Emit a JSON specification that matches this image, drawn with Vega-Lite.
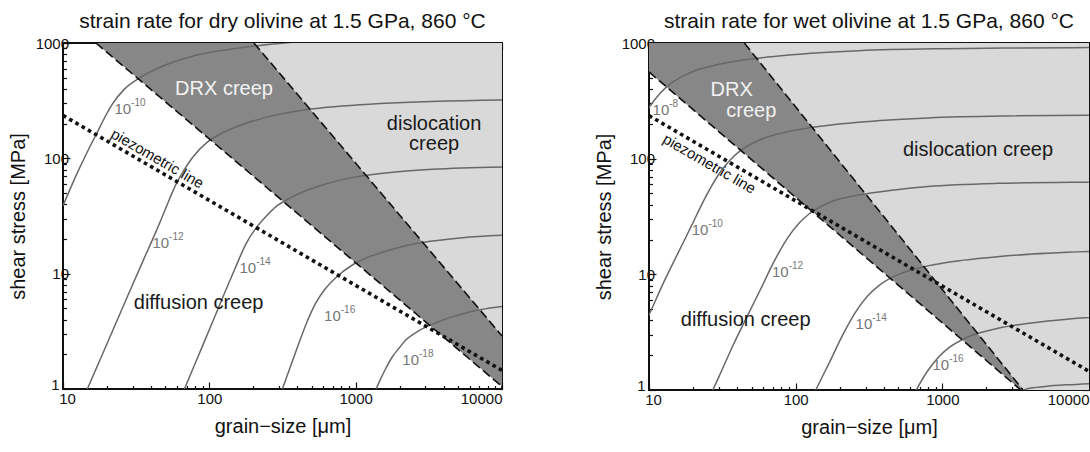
{
  "$schema": "https://vega.github.io/schema/vega-lite/v6.json",
  "background": "white",
  "padding": {"left": 7, "top": 10, "right": 2, "bottom": 5},
  "spacing": 87,
  "config": {
    "view": {"stroke": "#111111", "strokeWidth": 2},
    "axis": {"domain": false, "grid": false, "labelFont": "Liberation Sans", "labelFontSize": 15, "labelColor": "#111111", "titleFont": "Liberation Sans", "titleFontSize": 20, "titleFontWeight": "normal", "titleColor": "#111111", "tickColor": "#111111", "tickWidth": 1.2, "labelOverlap": false, "labelBound": false, "labelFlush": false},
    "text": {"font": "Liberation Sans"},
    "title": {"font": "Liberation Sans", "fontSize": 21, "fontWeight": "normal", "color": "#111111", "anchor": "middle", "frame": "group", "baseline": "alphabetic", "offset": 4}
  },
  "datasets": {
    "piezo": [{"d": 10, "tau": 235.5}, {"d": 10000, "tau": 1.45}],
    "dry_dark": [{"d": 16.79, "tau": 1000, "tau2": 1000}, {"d": 10000, "tau": 1.05, "tau2": 1000}],
    "dry_light": [{"d": 201.8, "tau": 1000, "tau2": 1000}, {"d": 10000, "tau": 2.884, "tau2": 1000}],
    "dry_bounds": [
      {"id": "lower", "d": 16.79, "tau": 1000}, {"id": "lower", "d": 10000, "tau": 1.05},
      {"id": "upper", "d": 201.8, "tau": 1000}, {"id": "upper", "d": 10000, "tau": 2.884}
    ],
    "dry_contours": [
      {"level": "-10", "d": 10, "tau": 38.9}, {"level": "-10", "d": 12.59, "tau": 75.9}, {"level": "-10", "d": 16.73, "tau": 158.5}, {"level": "-10", "d": 21.73, "tau": 295.1}, {"level": "-10", "d": 26.3, "tau": 398.1}, {"level": "-10", "d": 32.21, "tau": 484.2}, {"level": "-10", "d": 45.29, "tau": 609.5}, {"level": "-10", "d": 76.56, "tau": 767.4}, {"level": "-10", "d": 129.4, "tau": 871}, {"level": "-10", "d": 207.5, "tau": 944}, {"level": "-10", "d": 398, "tau": 1023}, {"level": "-10", "d": 1000, "tau": 1096}, {"level": "-10", "d": 10000, "tau": 1175},
      {"level": "-12", "d": 12.59, "tau": 0.646}, {"level": "-12", "d": 14.66, "tau": 1.0}, {"level": "-12", "d": 19.95, "tau": 2.455}, {"level": "-12", "d": 28.18, "tau": 6.76}, {"level": "-12", "d": 35.48, "tau": 13.18}, {"level": "-12", "d": 43.05, "tau": 22.91}, {"level": "-12", "d": 50.12, "tau": 36.31}, {"level": "-12", "d": 58.88, "tau": 58.88}, {"level": "-12", "d": 67.61, "tau": 80.35}, {"level": "-12", "d": 76.56, "tau": 101.2}, {"level": "-12", "d": 96.83, "tau": 138.0}, {"level": "-12", "d": 120.2, "tau": 164.1}, {"level": "-12", "d": 143.5, "tau": 182.0}, {"level": "-12", "d": 243.2, "tau": 226.5}, {"level": "-12", "d": 479.7, "tau": 266.1}, {"level": "-12", "d": 1479, "tau": 298.5}, {"level": "-12", "d": 10000, "tau": 319.9},
      {"level": "-14", "d": 56.23, "tau": 0.562}, {"level": "-14", "d": 67.61, "tau": 1.0}, {"level": "-14", "d": 84.33, "tau": 1.95}, {"level": "-14", "d": 105.9, "tau": 3.89}, {"level": "-14", "d": 125.9, "tau": 6.607}, {"level": "-14", "d": 149.3, "tau": 10.96}, {"level": "-14", "d": 179.1, "tau": 18.41}, {"level": "-14", "d": 207.0, "tau": 24.55}, {"level": "-14", "d": 245.5, "tau": 31.62}, {"level": "-14", "d": 288.4, "tau": 38.46}, {"level": "-14", "d": 354.8, "tau": 45.19}, {"level": "-14", "d": 446.7, "tau": 51.88}, {"level": "-14", "d": 631.0, "tau": 60.26}, {"level": "-14", "d": 959.4, "tau": 68.39}, {"level": "-14", "d": 1799, "tau": 75.86}, {"level": "-14", "d": 3357, "tau": 80.35}, {"level": "-14", "d": 10000, "tau": 84.14},
      {"level": "-16", "d": 251.2, "tau": 0.468}, {"level": "-16", "d": 315.5, "tau": 1.0}, {"level": "-16", "d": 354.8, "tau": 1.514}, {"level": "-16", "d": 410.2, "tau": 2.512}, {"level": "-16", "d": 467.7, "tau": 3.89}, {"level": "-16", "d": 533.3, "tau": 5.559}, {"level": "-16", "d": 616.6, "tau": 7.328}, {"level": "-16", "d": 731.1, "tau": 9.226}, {"level": "-16", "d": 948.4, "tau": 11.89}, {"level": "-16", "d": 1202, "tau": 13.8}, {"level": "-16", "d": 1524, "tau": 15.31}, {"level": "-16", "d": 2089, "tau": 17.18}, {"level": "-16", "d": 2858, "tau": 18.62}, {"level": "-16", "d": 5358, "tau": 20.51}, {"level": "-16", "d": 10000, "tau": 21.53},
      {"level": "-18", "d": 1222, "tau": 0.664}, {"level": "-18", "d": 1393, "tau": 1.028}, {"level": "-18", "d": 1589, "tau": 1.469}, {"level": "-18", "d": 1782, "tau": 1.905}, {"level": "-18", "d": 1995, "tau": 2.291}, {"level": "-18", "d": 2198, "tau": 2.661}, {"level": "-18", "d": 2512, "tau": 3.02}, {"level": "-18", "d": 2931, "tau": 3.388}, {"level": "-18", "d": 3548, "tau": 3.758}, {"level": "-18", "d": 4345, "tau": 4.14}, {"level": "-18", "d": 5370, "tau": 4.467}, {"level": "-18", "d": 6622, "tau": 4.786}, {"level": "-18", "d": 8128, "tau": 5.012}, {"level": "-18", "d": 10000, "tau": 5.188}
    ],
    "dry_clabels": [
      {"base": "10", "exp": "-10", "d": 29.2, "tau": 265.6},
      {"base": "10", "exp": "-12", "d": 53.1, "tau": 18.3},
      {"base": "10", "exp": "-14", "d": 209, "tau": 11.2},
      {"base": "10", "exp": "-16", "d": 791, "tau": 4.28},
      {"base": "10", "exp": "-18", "d": 2710, "tau": 1.77}
    ],
    "dry_regions": [
      {"label": "DRX creep", "tone": "light", "d": 126, "tau": 400},
      {"label": "dislocation", "tone": "dark", "d": 3436, "tau": 199.5},
      {"label": "creep", "tone": "dark", "d": 3436, "tau": 133.4},
      {"label": "diffusion creep", "tone": "dark", "d": 84.5, "tau": 5.62}
    ],
    "dry_piezo_label": [{"label": "piezometric line", "d": 44.2, "tau": 99.4}],
    "wet_dark": [{"d": 10, "tau": 562.3, "tau2": 1000}, {"d": 3428, "tau": 1, "tau2": 1000}, {"d": 3548, "tau": 1, "tau2": 1000}],
    "wet_light": [{"d": 44.67, "tau": 1000, "tau2": 1000}, {"d": 3548, "tau": 1, "tau2": 1000}, {"d": 10000, "tau": 1, "tau2": 1000}],
    "wet_bounds": [
      {"id": "lower", "d": 10, "tau": 562.3}, {"id": "lower", "d": 3428, "tau": 1},
      {"id": "upper", "d": 44.67, "tau": 1000}, {"id": "upper", "d": 3548, "tau": 1}
    ],
    "wet_contours": [
      {"level": "-8", "d": 8.054, "tau": 172.2}, {"level": "-8", "d": 10.05, "tau": 279.3}, {"level": "-8", "d": 11.91, "tau": 368.1}, {"level": "-8", "d": 13.96, "tau": 442.6}, {"level": "-8", "d": 18.88, "tau": 550.8}, {"level": "-8", "d": 30.06, "tau": 654.6}, {"level": "-8", "d": 53.21, "tau": 734.5}, {"level": "-8", "d": 89.95, "tau": 787.0}, {"level": "-8", "d": 269.2, "tau": 857.0}, {"level": "-8", "d": 1062, "tau": 893.1}, {"level": "-8", "d": 3357, "tau": 905.7}, {"level": "-8", "d": 13366, "tau": 914.1},
      {"level": "-10", "d": 6.31, "tau": 1.288}, {"level": "-10", "d": 10, "tau": 4.446}, {"level": "-10", "d": 12.59, "tau": 8.511}, {"level": "-10", "d": 15.85, "tau": 15.49}, {"level": "-10", "d": 19.32, "tau": 25.7}, {"level": "-10", "d": 23.99, "tau": 45.19}, {"level": "-10", "d": 29.92, "tau": 73.28}, {"level": "-10", "d": 35.48, "tau": 96.6}, {"level": "-10", "d": 41.59, "tau": 116.1}, {"level": "-10", "d": 56.23, "tau": 144.5}, {"level": "-10", "d": 89.54, "tau": 171.8}, {"level": "-10", "d": 158.5, "tau": 192.8}, {"level": "-10", "d": 267.9, "tau": 206.5}, {"level": "-10", "d": 801.7, "tau": 224.9}, {"level": "-10", "d": 3162, "tau": 234.4}, {"level": "-10", "d": 10000, "tau": 237.7},
      {"level": "-12", "d": 18.79, "tau": 0.3707}, {"level": "-12", "d": 29.79, "tau": 1.279}, {"level": "-12", "d": 37.5, "tau": 2.449}, {"level": "-12", "d": 47.21, "tau": 4.457}, {"level": "-12", "d": 57.54, "tau": 7.396}, {"level": "-12", "d": 71.45, "tau": 13.0}, {"level": "-12", "d": 89.13, "tau": 21.09}, {"level": "-12", "d": 105.7, "tau": 27.8}, {"level": "-12", "d": 123.9, "tau": 33.42}, {"level": "-12", "d": 167.5, "tau": 41.59}, {"level": "-12", "d": 266.7, "tau": 48.42}, {"level": "-12", "d": 472.1, "tau": 53.7}, {"level": "-12", "d": 798, "tau": 57.54}, {"level": "-12", "d": 2388, "tau": 61.24}, {"level": "-12", "d": 9419, "tau": 62.66}, {"level": "-12", "d": 29785, "tau": 63.1},
      {"level": "-14", "d": 88.72, "tau": 0.3062}, {"level": "-14", "d": 111.7, "tau": 0.5861}, {"level": "-14", "d": 140.6, "tau": 1.067}, {"level": "-14", "d": 171.4, "tau": 1.77}, {"level": "-14", "d": 212.8, "tau": 3.112}, {"level": "-14", "d": 265.5, "tau": 5.047}, {"level": "-14", "d": 314.8, "tau": 6.653}, {"level": "-14", "d": 369.0, "tau": 7.998}, {"level": "-14", "d": 498.9, "tau": 9.954}, {"level": "-14", "d": 794.3, "tau": 11.83}, {"level": "-14", "d": 1406, "tau": 13.27}, {"level": "-14", "d": 2377, "tau": 14.22}, {"level": "-14", "d": 7112, "tau": 15.49}, {"level": "-14", "d": 28054, "tau": 16.14},
      {"level": "-16", "d": 418.8, "tau": 0.3069}, {"level": "-16", "d": 510.5, "tau": 0.5093}, {"level": "-16", "d": 633.9, "tau": 0.8954}, {"level": "-16", "d": 790.7, "tau": 1.452}, {"level": "-16", "d": 937.6, "tau": 1.914}, {"level": "-16", "d": 1099, "tau": 2.301}, {"level": "-16", "d": 1486, "tau": 2.864}, {"level": "-16", "d": 2366, "tau": 3.404}, {"level": "-16", "d": 4188, "tau": 3.819}, {"level": "-16", "d": 7079, "tau": 4.093}, {"level": "-16", "d": 21184, "tau": 4.457},
      {"level": "-18", "d": 2818, "tau": 0.501}, {"level": "-18", "d": 3162, "tau": 0.891}, {"level": "-18", "d": 3802, "tau": 1.026}, {"level": "-18", "d": 5012, "tau": 1.072}, {"level": "-18", "d": 7079, "tau": 1.109}, {"level": "-18", "d": 10000, "tau": 1.135}
    ],
    "wet_clabels": [
      {"base": "10", "exp": "-8", "d": 13.75, "tau": 265.7},
      {"base": "10", "exp": "-10", "d": 25.4, "tau": 24.2},
      {"base": "10", "exp": "-12", "d": 89.6, "tau": 10.5},
      {"base": "10", "exp": "-14", "d": 333, "tau": 3.72},
      {"base": "10", "exp": "-16", "d": 1114, "tau": 1.645}
    ],
    "wet_regions": [
      {"label": "DRX", "tone": "light", "d": 36.6, "tau": 391.6},
      {"label": "creep", "tone": "light", "d": 49.8, "tau": 257.8},
      {"label": "dislocation creep", "tone": "dark", "d": 1750, "tau": 118.2},
      {"label": "diffusion creep", "tone": "dark", "d": 45.6, "tau": 4.04}
    ],
    "wet_piezo_label": [{"label": "piezometric line", "d": 25.8, "tau": 90.3}]
  },
  "hconcat": [
    {
      "width": 439,
      "height": 346,
      "title": {"text": "strain rate for dry olivine at 1.5 GPa, 860 °C"},
      "resolve": {"axis": {"x": "independent", "y": "independent"}},
      "layer": [
        {
          "encoding": {
            "x": {"field": "d", "type": "quantitative", "scale": {"type": "log", "domain": [10, 10000], "nice": false},
              "axis": {"title": "grain−size [μm]", "values": [10,20,30,40,50,60,70,80,90,100,200,300,400,500,600,700,800,900,1000,2000,3000,4000,5000,6000,7000,8000,9000,10000],
                "labelExpr": "datum.value == 10 || datum.value == 100 || datum.value == 1000 || datum.value == 10000 ? format(datum.value, 'd') : ''",
                "tickSize": {"condition": {"test": "datum.value == 10 || datum.value == 100 || datum.value == 1000 || datum.value == 10000", "value": -7}, "value": -3.5},
                "labelAlign": {"condition": {"test": "datum.value == 10000", "value": "right"}, "value": "center"},
                "labelOffset": {"condition": {"test": "datum.value == 10", "value": 4}, "value": 0},
                "labelPadding": 9, "titlePadding": 7}},
            "y": {"field": "tau", "type": "quantitative", "scale": {"type": "log", "domain": [1, 1000], "nice": false},
              "axis": {"title": "shear stress [MPa]", "values": [1,2,3,4,5,6,7,8,9,10,20,30,40,50,60,70,80,90,100,200,300,400,500,600,700,800,900,1000],
                "labelExpr": "datum.value == 1 || datum.value == 10 || datum.value == 100 || datum.value == 1000 ? format(datum.value, 'd') : ''",
                "tickSize": {"condition": {"test": "datum.value == 1 || datum.value == 10 || datum.value == 100 || datum.value == 1000", "value": -7}, "value": -3.5},
                "labelBaseline": {"condition": {"test": "datum.value == 1", "value": "alphabetic"}, "value": "middle"},
                "labelPadding": {"condition": {"test": "datum.value == 1", "value": 11}, "value": 1.5},
                "titlePadding": 7}}
          },
          "layer": [
            {"data": {"name": "dry_dark"}, "mark": {"type": "area", "color": "#878787", "clip": true}, "encoding": {"y2": {"field": "tau2"}}},
            {"data": {"name": "dry_light"}, "mark": {"type": "area", "color": "#d9d9d9", "clip": true}, "encoding": {"y2": {"field": "tau2"}}},
            {"data": {"name": "dry_contours"}, "mark": {"type": "line", "color": "#686868", "strokeWidth": 1.5, "interpolate": "monotone", "clip": true}, "encoding": {"detail": {"field": "level"}}},
            {"data": {"name": "dry_bounds"}, "mark": {"type": "line", "color": "#111111", "strokeWidth": 1.6, "strokeDash": [9, 4], "clip": true}, "encoding": {"detail": {"field": "id"}}},
            {"data": {"name": "piezo"}, "mark": {"type": "line", "color": "#111111", "strokeWidth": 3.6, "strokeDash": [3.6, 3.6], "strokeCap": "butt", "clip": true}, "encoding": {}},
            {"data": {"name": "dry_clabels"}, "mark": {"type": "text", "align": "right", "baseline": "middle", "fontSize": 15, "color": "#767676"}, "encoding": {"text": {"field": "base"}}},
            {"data": {"name": "dry_clabels"}, "mark": {"type": "text", "align": "left", "baseline": "middle", "fontSize": 10, "dy": -6, "color": "#767676"}, "encoding": {"text": {"field": "exp"}}},
            {"data": {"name": "dry_regions"}, "mark": {"type": "text", "align": "center", "baseline": "middle", "fontSize": 20}, "encoding": {"text": {"field": "label"}, "color": {"field": "tone", "type": "nominal", "scale": {"domain": ["light", "dark"], "range": ["#f2f2f2", "#1a1a1a"]}, "legend": null}}},
            {"data": {"name": "dry_piezo_label"}, "mark": {"type": "text", "align": "center", "baseline": "middle", "fontSize": 15, "angle": 30, "color": "#111111"}, "encoding": {"text": {"field": "label"}}}
          ]
        },
        {
          "data": {"name": "piezo"},
          "mark": {"type": "point", "opacity": 0},
          "encoding": {
            "x": {"field": "d", "type": "quantitative", "scale": {"type": "log", "domain": [10, 10000], "nice": false},
              "axis": {"orient": "top", "title": null, "labels": false, "values": [10,20,30,40,50,60,70,80,90,100,200,300,400,500,600,700,800,900,1000,2000,3000,4000,5000,6000,7000,8000,9000,10000],
                "tickSize": {"condition": {"test": "datum.value == 10 || datum.value == 100 || datum.value == 1000 || datum.value == 10000", "value": -7}, "value": -3.5}}},
            "y": {"field": "tau", "type": "quantitative", "scale": {"type": "log", "domain": [1, 1000], "nice": false},
              "axis": {"orient": "right", "title": null, "labels": false, "values": [1,2,3,4,5,6,7,8,9,10,20,30,40,50,60,70,80,90,100,200,300,400,500,600,700,800,900,1000],
                "tickSize": {"condition": {"test": "datum.value == 1 || datum.value == 10 || datum.value == 100 || datum.value == 1000", "value": -7}, "value": -3.5}}}
          }
        }
      ]
    },
    {
      "width": 440,
      "height": 347,
      "title": {"text": "strain rate for wet olivine at 1.5 GPa, 860 °C"},
      "resolve": {"axis": {"x": "independent", "y": "independent"}},
      "layer": [
        {
          "encoding": {
            "x": {"field": "d", "type": "quantitative", "scale": {"type": "log", "domain": [10, 10000], "nice": false},
              "axis": {"title": "grain−size [μm]", "values": [10,20,30,40,50,60,70,80,90,100,200,300,400,500,600,700,800,900,1000,2000,3000,4000,5000,6000,7000,8000,9000,10000],
                "labelExpr": "datum.value == 10 || datum.value == 100 || datum.value == 1000 || datum.value == 10000 ? format(datum.value, 'd') : ''",
                "tickSize": {"condition": {"test": "datum.value == 10 || datum.value == 100 || datum.value == 1000 || datum.value == 10000", "value": -7}, "value": -3.5},
                "labelAlign": {"condition": {"test": "datum.value == 10000", "value": "right"}, "value": "center"},
                "labelOffset": {"condition": {"test": "datum.value == 10", "value": 4}, "value": 0},
                "labelPadding": 9, "titlePadding": 7}},
            "y": {"field": "tau", "type": "quantitative", "scale": {"type": "log", "domain": [1, 1000], "nice": false},
              "axis": {"title": "shear stress [MPa]", "values": [1,2,3,4,5,6,7,8,9,10,20,30,40,50,60,70,80,90,100,200,300,400,500,600,700,800,900,1000],
                "labelExpr": "datum.value == 1 || datum.value == 10 || datum.value == 100 || datum.value == 1000 ? format(datum.value, 'd') : ''",
                "tickSize": {"condition": {"test": "datum.value == 1 || datum.value == 10 || datum.value == 100 || datum.value == 1000", "value": -7}, "value": -3.5},
                "labelBaseline": {"condition": {"test": "datum.value == 1", "value": "alphabetic"}, "value": "middle"},
                "labelPadding": {"condition": {"test": "datum.value == 1", "value": 11}, "value": 1.5},
                "titlePadding": 7}}
          },
          "layer": [
            {"data": {"name": "wet_dark"}, "mark": {"type": "area", "color": "#878787", "clip": true}, "encoding": {"y2": {"field": "tau2"}}},
            {"data": {"name": "wet_light"}, "mark": {"type": "area", "color": "#d9d9d9", "clip": true}, "encoding": {"y2": {"field": "tau2"}}},
            {"data": {"name": "wet_contours"}, "mark": {"type": "line", "color": "#686868", "strokeWidth": 1.5, "interpolate": "monotone", "clip": true}, "encoding": {"detail": {"field": "level"}}},
            {"data": {"name": "wet_bounds"}, "mark": {"type": "line", "color": "#111111", "strokeWidth": 1.6, "strokeDash": [9, 4], "clip": true}, "encoding": {"detail": {"field": "id"}}},
            {"data": {"name": "piezo"}, "mark": {"type": "line", "color": "#111111", "strokeWidth": 3.6, "strokeDash": [3.6, 3.6], "strokeCap": "butt", "clip": true}, "encoding": {}},
            {"data": {"name": "wet_clabels"}, "mark": {"type": "text", "align": "right", "baseline": "middle", "fontSize": 15, "color": "#767676"}, "encoding": {"text": {"field": "base"}}},
            {"data": {"name": "wet_clabels"}, "mark": {"type": "text", "align": "left", "baseline": "middle", "fontSize": 10, "dy": -6, "color": "#767676"}, "encoding": {"text": {"field": "exp"}}},
            {"data": {"name": "wet_regions"}, "mark": {"type": "text", "align": "center", "baseline": "middle", "fontSize": 20}, "encoding": {"text": {"field": "label"}, "color": {"field": "tone", "type": "nominal", "scale": {"domain": ["light", "dark"], "range": ["#f2f2f2", "#1a1a1a"]}, "legend": null}}},
            {"data": {"name": "wet_piezo_label"}, "mark": {"type": "text", "align": "center", "baseline": "middle", "fontSize": 15, "angle": 30, "color": "#111111"}, "encoding": {"text": {"field": "label"}}}
          ]
        },
        {
          "data": {"name": "piezo"},
          "mark": {"type": "point", "opacity": 0},
          "encoding": {
            "x": {"field": "d", "type": "quantitative", "scale": {"type": "log", "domain": [10, 10000], "nice": false},
              "axis": {"orient": "top", "title": null, "labels": false, "values": [10,20,30,40,50,60,70,80,90,100,200,300,400,500,600,700,800,900,1000,2000,3000,4000,5000,6000,7000,8000,9000,10000],
                "tickSize": {"condition": {"test": "datum.value == 10 || datum.value == 100 || datum.value == 1000 || datum.value == 10000", "value": -7}, "value": -3.5}}},
            "y": {"field": "tau", "type": "quantitative", "scale": {"type": "log", "domain": [1, 1000], "nice": false},
              "axis": {"orient": "right", "title": null, "labels": false, "values": [1,2,3,4,5,6,7,8,9,10,20,30,40,50,60,70,80,90,100,200,300,400,500,600,700,800,900,1000],
                "tickSize": {"condition": {"test": "datum.value == 1 || datum.value == 10 || datum.value == 100 || datum.value == 1000", "value": -7}, "value": -3.5}}}
          }
        }
      ]
    }
  ]
}
